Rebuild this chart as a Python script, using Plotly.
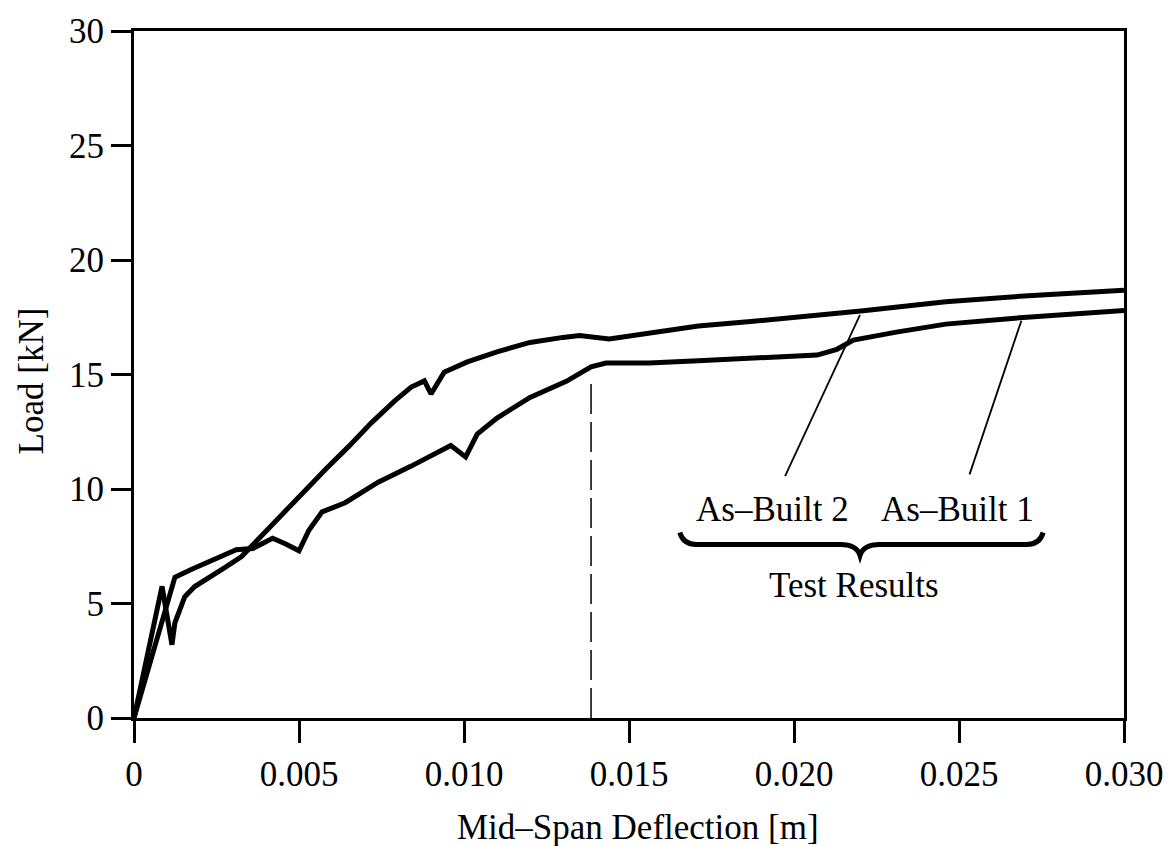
import plotly.graph_objects as go

# As-Built 2 (upper curve at large deflection)
ab2_x = [0, 0.00085, 0.00115, 0.00124, 0.00139, 0.00154, 0.00184, 0.00235, 0.00275, 0.00326, 0.00356,
         0.0042, 0.0050, 0.0058, 0.0065, 0.0072, 0.0079, 0.0084, 0.0088, 0.0090, 0.0094, 0.0097,
         0.0101, 0.0110, 0.0120, 0.0130, 0.0135, 0.0144, 0.0156, 0.0171, 0.0186, 0.0206, 0.0221,
         0.0246, 0.0271, 0.0300]
ab2_y = [0, 5.75, 3.2, 4.16, 4.73, 5.3, 5.74, 6.18, 6.57, 7.05, 7.5,
         8.5, 9.65, 10.85, 11.85, 12.9, 13.85, 14.45, 14.72, 14.15, 15.1, 15.3,
         15.55, 15.99, 16.4, 16.62, 16.7, 16.55, 16.8, 17.12, 17.3, 17.56, 17.78,
         18.18, 18.44, 18.68]

# As-Built 1 (lower curve at large deflection)
ab1_x = [0, 0.00124, 0.00175, 0.00235, 0.0028, 0.0031, 0.0036, 0.0042, 0.0046, 0.0050, 0.0053,
         0.0057, 0.0064, 0.0074, 0.0084, 0.0094, 0.0096, 0.01005, 0.0104, 0.0110, 0.0120, 0.0131,
         0.01385, 0.0143, 0.0156, 0.0171, 0.0191, 0.0207, 0.0213, 0.0218, 0.0231, 0.0246, 0.0266,
         0.0286, 0.0300]
ab1_y = [0, 6.15, 6.5, 6.9, 7.2, 7.35, 7.4, 7.85, 7.6, 7.3, 8.2,
         9.0, 9.4, 10.3, 11.0, 11.8, 11.9, 11.4, 12.4, 13.1, 14.0, 14.7,
         15.33, 15.5, 15.5, 15.6, 15.75, 15.85, 16.1, 16.5, 16.85, 17.2, 17.45,
         17.65, 17.8]

# dashed marker line
dash_x = [0.01385, 0.01385]
dash_y = [0, 14.7]

# leader lines for labels
lead2_x = [0.01973, 0.02200]
lead2_y = [10.56, 17.6]
lead1_x = [0.02532, 0.02689]
lead1_y = [10.64, 17.35]

x_ticks = [0, 0.005, 0.010, 0.015, 0.020, 0.025, 0.030]
x_ticktext = ["0", "0.005", "0.010", "0.015", "0.020", "0.025", "0.030"]
y_ticks = [0, 5, 10, 15, 20, 25, 30]
y_ticktext = ["0", "5", "10", "15", "20", "25", "30"]

FONT = "Liberation Serif"
FS = 35

fig = go.Figure()
fig.add_trace(go.Scatter(x=ab2_x, y=ab2_y, mode="lines", name="As-Built 2",
                         line=dict(color="black", width=5)))
fig.add_trace(go.Scatter(x=ab1_x, y=ab1_y, mode="lines", name="As-Built 1",
                         line=dict(color="black", width=5)))
fig.add_trace(go.Scatter(x=dash_x, y=dash_y, mode="lines", showlegend=False,
                         line=dict(color="black", width=1.5, dash="30px,8px")))
for lx, ly in [(lead2_x, lead2_y), (lead1_x, lead1_y)]:
    fig.add_trace(go.Scatter(x=lx, y=ly, mode="lines", showlegend=False,
                             line=dict(color="black", width=1.8)))

# curly brace under the labels
bx0, bx1, bxm = 0.01654, 0.02755, 0.02200
by_end, by_mid, by_tip = 8.1, 7.58, 7.1
brace = (f"M {bx0},{by_end} Q {bx0+0.0001},{by_mid} {bx0+0.0005},{by_mid} "
         f"L {bxm-0.0006},{by_mid} Q {bxm-0.0001},{by_mid} {bxm},{by_tip} "
         f"Q {bxm+0.0001},{by_mid} {bxm+0.0006},{by_mid} "
         f"L {bx1-0.0005},{by_mid} Q {bx1-0.0001},{by_mid} {bx1},{by_end}")
fig.add_shape(type="path", path=brace, xref="x", yref="y",
              line=dict(color="black", width=5))

fig.add_annotation(x=0.01934, y=9.11, text="As–Built 2", showarrow=False,
                   font=dict(family=FONT, size=FS, color="black"))
fig.add_annotation(x=0.02496, y=9.11, text="As–Built 1", showarrow=False,
                   font=dict(family=FONT, size=FS, color="black"))
fig.add_annotation(x=0.02182, y=5.8, text="Test Results", showarrow=False,
                   font=dict(family=FONT, size=FS, color="black"))

# axis titles
fig.add_annotation(xref="paper", yref="paper", x=0.509, y=-0.160,
                   text="Mid–Span Deflection [m]", showarrow=False,
                   xanchor="center", yanchor="middle",
                   font=dict(family=FONT, size=FS, color="black"))
fig.add_annotation(xref="paper", yref="paper", x=-0.104, y=0.49,
                   text="Load [kN]", showarrow=False, textangle=-90,
                   xanchor="center", yanchor="middle",
                   font=dict(family=FONT, size=FS, color="black"))

fig.update_layout(
    width=1175, height=846,
    margin=dict(l=134, r=47, t=31, b=128),
    paper_bgcolor="white", plot_bgcolor="white",
    showlegend=False,
    font=dict(family=FONT, size=FS, color="black"),
)
fig.update_xaxes(range=[0, 0.030], tickvals=x_ticks, ticktext=x_ticktext,
                 ticks="outside", ticklen=22, tickwidth=2.5, tickcolor="black",
                 showline=True, linecolor="black", linewidth=3, mirror=True,
                 showgrid=False, zeroline=False, ticklabelstandoff=1,
                 tickfont=dict(family=FONT, size=FS, color="black"))
fig.update_yaxes(range=[0, 30], tickvals=y_ticks, ticktext=y_ticktext,
                 ticks="outside", ticklen=20, tickwidth=2.5, tickcolor="black",
                 showline=True, linecolor="black", linewidth=3, mirror=True,
                 showgrid=False, zeroline=False,
                 tickfont=dict(family=FONT, size=FS, color="black"))

fig.write_html("out.html")
